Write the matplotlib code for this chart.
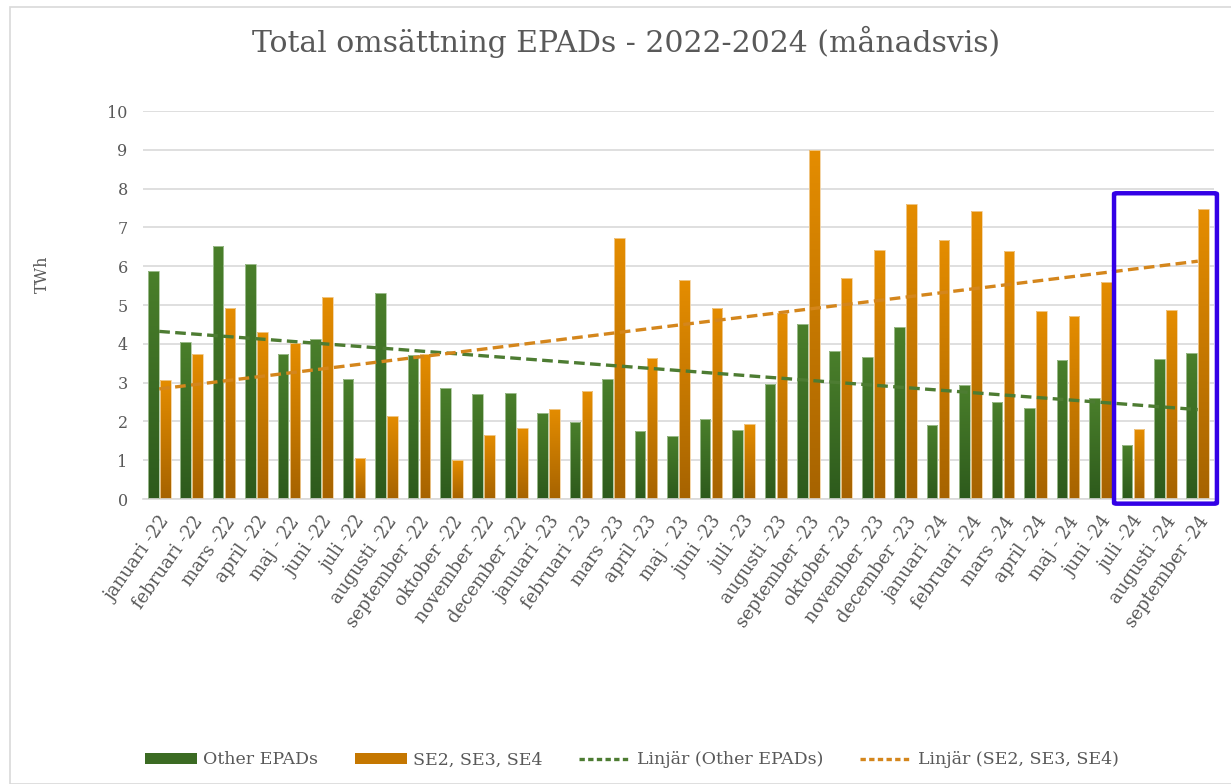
import numpy as np
import matplotlib
matplotlib.use("Agg")
import matplotlib.pyplot as plt
from matplotlib.patches import Rectangle, Patch, FancyBboxPatch
from matplotlib.lines import Line2D
from matplotlib.colors import LinearSegmentedColormap

months = ["januari -22", "februari -22", "mars -22", "april -22", "maj - 22", "juni -22",
          "juli -22", "augusti -22", "september -22", "oktober -22", "november -22", "december -22",
          "januari -23", "februari -23", "mars -23", "april -23", "maj - 23", "juni -23",
          "juli -23", "augusti -23", "september -23", "oktober -23", "november -23", "december -23",
          "januari -24", "februari -24", "mars -24", "april -24", "maj - 24", "juni -24",
          "juli -24", "augusti -24", "september -24"]

other_epads = [5.88, 4.05, 6.52, 6.06, 3.74, 4.12, 3.09, 5.31, 3.71, 2.86, 2.71, 2.73,
               2.22, 1.98, 3.09, 1.75, 1.62, 2.06, 1.78, 2.96, 4.51, 3.81, 3.66, 4.43,
               1.91, 2.94, 2.50, 2.35, 3.58, 2.60, 1.39, 3.61, 3.76]

se234 = [3.07, 3.74, 4.92, 4.30, 4.02, 5.21, 1.06, 2.14, 3.74, 1.00, 1.65, 1.83,
         2.32, 2.78, 6.73, 3.63, 5.64, 4.92, 1.93, 4.79, 9.00, 5.70, 6.42, 7.60,
         6.68, 7.42, 6.39, 4.85, 4.72, 5.59, 1.80, 4.87, 7.47]

series_names = ["Other EPADs", "SE2, SE3, SE4"]
trend_names = ["Linjär (Other EPADs)", "Linjär (SE2, SE3, SE4)"]
title = "Total omsättning EPADs - 2022-2024 (månadsvis)"
highlight = (30, 32)  # first and last highlighted month index

SERIF = "DejaVu Serif"
TXT = "#595959"

fig = plt.figure(figsize=(12.31, 7.84), dpi=100)
fig.patches.append(Rectangle((10/1231, 0), 1.2, 1 - 7/784, transform=fig.transFigure,
                             fill=False, edgecolor="#d9d9d9", lw=1.2))
ax = fig.add_axes([143/1231, 1 - 499/784, (1214-143)/1231, (499-111)/784])

x = np.arange(len(months))
w = 0.33
off = 0.185

green_cmap = LinearSegmentedColormap.from_list("g", ["#2d5a1c", "#4a7f2b"])
orange_cmap = LinearSegmentedColormap.from_list("o", ["#a66300", "#e58d00"])
grad = np.linspace(0, 1, 256).reshape(-1, 1)

def grad_bars(xs, vals, cmap, edge):
    bars = ax.bar(xs, vals, width=w, color="none", edgecolor=edge, linewidth=0.6, zorder=3)
    for b in bars:
        x0, y0 = b.get_x(), b.get_y()
        bw, bh = b.get_width(), b.get_height()
        im = ax.imshow(grad, extent=(x0, x0 + bw, y0, y0 + bh), origin="lower",
                       cmap=cmap, aspect="auto", zorder=2.5)
        im.set_clip_path(b)
    return bars

grad_bars(x - off, other_epads, green_cmap, "#a9c59b")
grad_bars(x + off, se234, orange_cmap, "#f2cf9a")

# linear trend lines
for vals, col in [(other_epads, "#4d7c32"), (se234, "#d4861c")]:
    p = np.polyfit(x, vals, 1)
    ax.plot([x[0], x[-1]], np.polyval(p, [x[0], x[-1]]), linestyle=(0, (3.2, 1.6)),
            color=col, lw=2.4, zorder=4)

ax.set_xlim(-0.5, len(months) - 0.5)
ax.set_ylim(0, 10)
ax.set_yticks(range(0, 11))
ax.yaxis.grid(True, color="#d9d9d9", lw=1.2, zorder=0)
ax.set_axisbelow(True)
for s in ["top", "right", "left"]:
    ax.spines[s].set_visible(False)
ax.spines["bottom"].set_color("#d9d9d9")
ax.spines["bottom"].set_linewidth(1.2)
ax.tick_params(axis="both", length=0, colors=TXT)
ax.tick_params(axis="y", pad=11)
ax.set_yticklabels([str(v) for v in range(0, 11)], fontsize=11.5, family=SERIF, color=TXT)
ax.set_xticks(x)
ax.set_xticklabels(months, rotation=55, ha="right", rotation_mode="anchor",
                   fontsize=13, family=SERIF, color=TXT)
ax.tick_params(axis="x", pad=10)
ax.set_ylabel("TWh", fontsize=11.5, family=SERIF, color=TXT, labelpad=0)
ax.yaxis.set_label_coords(-92/1071, 0.58)

# highlight box
rect = FancyBboxPatch((highlight[0] - 0.58, -0.12), highlight[1] - highlight[0] + 1.17, 8.0,
                      boxstyle="round,pad=0,rounding_size=0.08", fill=False,
                      edgecolor="#3300e6", lw=3.2, clip_on=False, zorder=6,
                      mutation_aspect=0.3)
ax.add_patch(rect)

fig.text(626/1231, 1 - 42/784, title, ha="center", va="center", fontsize=21.5,
         family=SERIF, color=TXT)

handles = [Patch(facecolor="#3b6b23"), Patch(facecolor="#c57700"),
           Line2D([], [], color="#4d7c32", lw=2.4, linestyle=(0, (1.6, 1))),
           Line2D([], [], color="#d4861c", lw=2.4, linestyle=(0, (1.6, 1)))]
leg = fig.legend(handles, series_names + trend_names, loc="center", ncol=4,
                 bbox_to_anchor=(632/1231, 1 - 760/784), frameon=False,
                 prop={"family": SERIF, "size": 12.5}, labelcolor=TXT,
                 handlelength=3.0, handleheight=0.6, columnspacing=2.1, handletextpad=0.35)

fig.savefig("out.png", dpi=100)
